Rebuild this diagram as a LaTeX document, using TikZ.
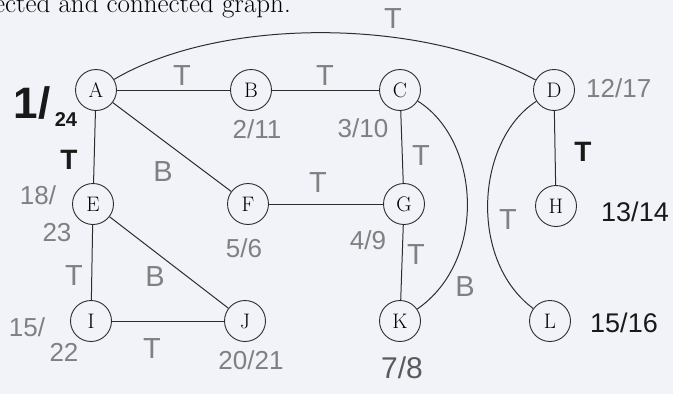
\documentclass[tikz,border=0pt]{standalone}
\usepackage{fontspec}
\newfontfamily\hand{Liberation Sans}
\definecolor{bg}{RGB}{241,243,248}
\definecolor{pencil}{RGB}{128,128,130}
\definecolor{ink}{RGB}{25,25,25}
\definecolor{edge}{RGB}{45,45,45}
\tikzset{
  vtx/.style={circle, draw=edge, line width=0.9pt, minimum size=41pt, inner sep=0pt, font=\fontsize{21}{21}\selectfont},
  edg/.style={draw=edge, line width=1pt},
  pen/.style={text=pencil, inner sep=0pt, font=\hand\fontsize{29}{29}\selectfont},
  penfr/.style={text=pencil, inner sep=0pt, font=\hand\fontsize{26}{26}\selectfont},
  inkt/.style={text=ink, inner sep=0pt, font=\hand\fontsize{27}{27}\selectfont},
}
\begin{document}
\begin{tikzpicture}[x=1pt,y=-1pt]
\useasboundingbox (0,0) rectangle (673,394);
\fill[bg] (0,0) rectangle (673,394);
\node[anchor=base west, inner sep=0pt, font=\fontsize{27}{27}\selectfont] (cap) at (-6,12) {ected and connected graph.};
% vertices
\node[vtx] (A) at (96,90) {A};
\node[vtx] (B) at (251,90) {B};
\node[vtx] (C) at (400,90) {C};
\node[vtx] (D) at (554,90) {D};
\node[vtx] (E) at (93,204) {E};
\node[vtx] (F) at (248,204) {F};
\node[vtx] (G) at (404,204) {G};
\node[vtx] (H) at (556,206) {H};
\node[vtx] (I) at (91,321) {I};
\node[vtx] (J) at (245,321) {J};
\node[vtx] (K) at (400,321) {K};
\node[vtx] (L) at (550,321) {L};
% edges
\draw[edg] (A) -- (B);
\draw[edg] (B) -- (C);
\draw[edg] (A) -- (E);
\draw[edg] (A) -- (F);
\draw[edg] (F) -- (G);
\draw[edg] (C) -- (G);
\draw[edg] (G) -- (K);
\draw[edg] (E) -- (I);
\draw[edg] (E) -- (J);
\draw[edg] (I) -- (J);
\draw[edg] (D) -- (H);
\draw[edg] (A) .. controls (220,17) and (420,17) .. (D);
\draw[edg] (C) .. controls (480,140) and (488,260) .. (K);
\draw[edg] (D) .. controls (476,140) and (468,260) .. (L);
% pencil annotations
\node[pen] (t1) at (182,76) {T};
\node[pen] (t2) at (325,76) {T};
\node[pen] (t3) at (393,19) {T};
\node[penfr] (f1) at (257,129) {2/11};
\node[penfr] (f2) at (363,128) {3/10};
\node[pen] (t4) at (421,156) {T};
\node[penfr, anchor=west] (f3) at (586,88) {12/17};
\node[pen] (b1) at (163,172) {B};
\node[pen] (t5) at (318,183) {T};
\node[penfr] (f4a) at (38,195) {18/};
\node[penfr] (f4b) at (57,233) {23};
\node[penfr] (f5) at (244,248) {5/6};
\node[penfr] (f6) at (368,240) {4/9};
\node[pen] (t6) at (416,255) {T};
\node[pen] (t7) at (508,220) {T};
\node[pen] (b2) at (465,287) {B};
\node[pen] (t8) at (74,276) {T};
\node[pen] (b3) at (155,277) {B};
\node[penfr] (f7a) at (27,327) {15/};
\node[penfr] (f7b) at (64,352) {22};
\node[pen] (t9) at (152,349) {T};
\node[penfr] (f8) at (251,360) {20/21};
\node[penfr, text=pencil!70!black, font=\hand\fontsize{30}{30}\selectfont] (f9) at (402,368) {7/8};
% ink annotations
\node[inkt, font=\hand\bfseries\fontsize{44}{44}\selectfont] (k1) at (32,103) {1/};
\node[inkt, font=\hand\bfseries\fontsize{20}{20}\selectfont] (k2) at (66,120) {24};
\node[inkt, font=\hand\bfseries\fontsize{28}{28}\selectfont] (k3) at (69,160) {T};
\node[inkt, font=\hand\bfseries\fontsize{28}{28}\selectfont] (k4) at (583,152) {T};
\node[inkt] (k5) at (635,212) {13/14};
\node[inkt] (k6) at (624,323) {15/16};
\end{tikzpicture}
\end{document}
